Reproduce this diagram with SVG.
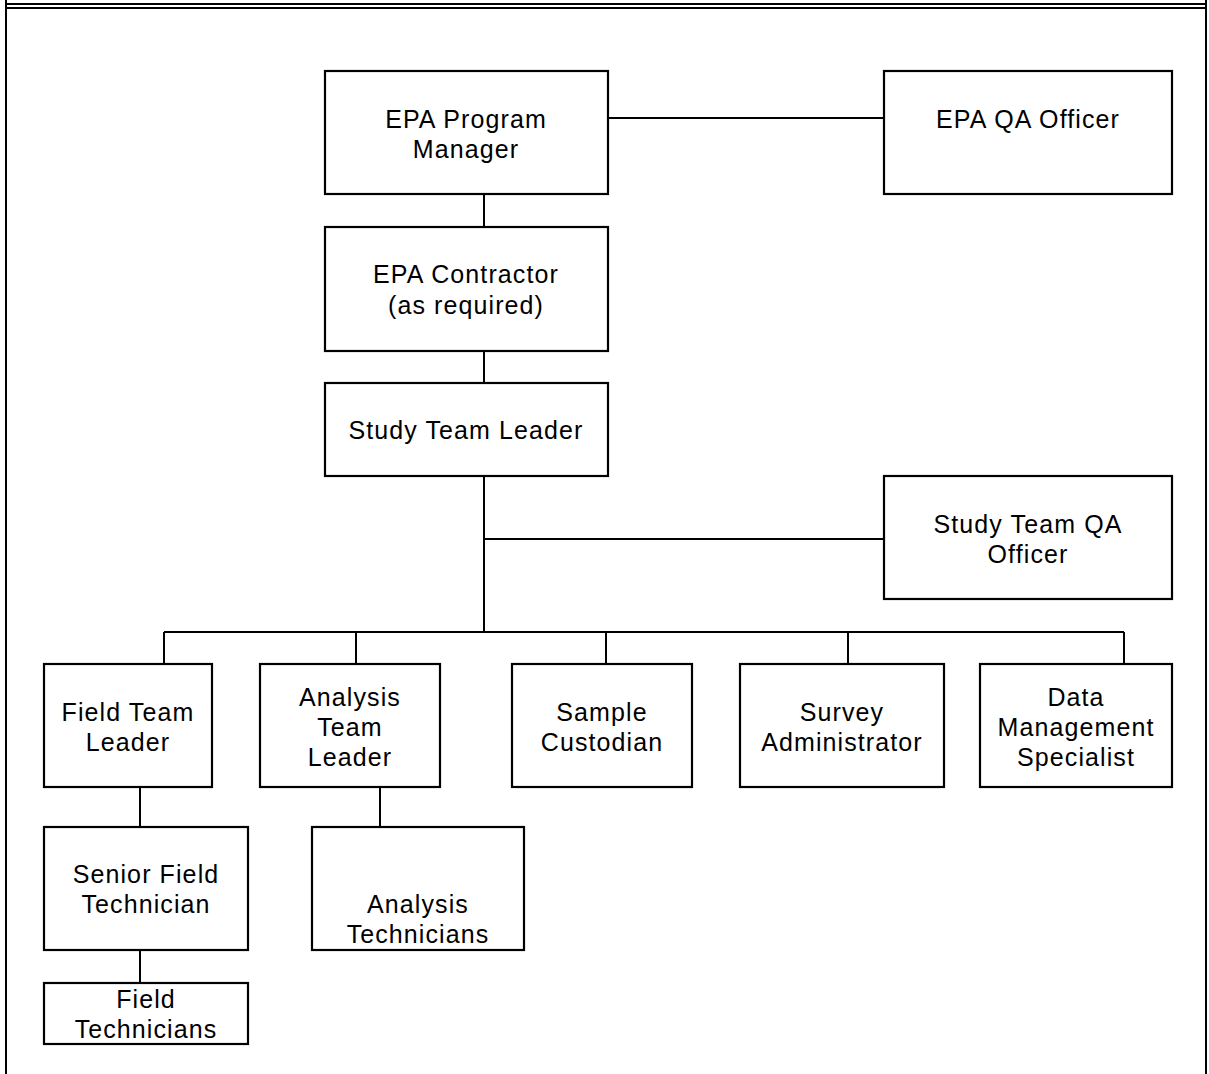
<svg xmlns="http://www.w3.org/2000/svg" width="1209" height="1074" viewBox="0 0 1209 1074">
<style>
.b{fill:#fff;stroke:#000;stroke-width:2.2}
.c{fill:none;stroke:#000;stroke-width:2}
.f{fill:none;stroke:#000;stroke-width:2}
text{font-family:"Liberation Sans",Arial,sans-serif;font-size:25px;text-anchor:middle;fill:#000;letter-spacing:1.1px}
</style>
<rect width="1209" height="1074" fill="#fff"/>
<g id="frame">
<line class="f" x1="6" y1="0" x2="6" y2="1074"/>
<line class="f" x1="1206" y1="0" x2="1206" y2="1074"/>
<line class="f" x1="6" y1="4" x2="1206" y2="4"/>
<line class="f" x1="6" y1="8" x2="1206" y2="8"/>
</g>
<g id="connectors">
<line class="c" x1="608" y1="118" x2="884" y2="118"/>
<line class="c" x1="484" y1="194" x2="484" y2="227"/>
<line class="c" x1="484" y1="351" x2="484" y2="383"/>
<line class="c" x1="484" y1="476" x2="484" y2="632"/>
<line class="c" x1="484" y1="539" x2="884" y2="539"/>
<line class="c" x1="164" y1="632" x2="1124" y2="632"/>
<line class="c" x1="164" y1="632" x2="164" y2="664"/>
<line class="c" x1="356" y1="632" x2="356" y2="664"/>
<line class="c" x1="606" y1="632" x2="606" y2="664"/>
<line class="c" x1="848" y1="632" x2="848" y2="664"/>
<line class="c" x1="1124" y1="632" x2="1124" y2="664"/>
<line class="c" x1="140" y1="787" x2="140" y2="827"/>
<line class="c" x1="380" y1="787" x2="380" y2="827"/>
<line class="c" x1="140" y1="950" x2="140" y2="983"/>
</g>
<g id="epa-program-manager"><rect class="b" x="325" y="71" width="283" height="123"/><text x="466" y="128">EPA Program</text><text x="466" y="158">Manager</text></g>
<g id="epa-qa-officer"><rect class="b" x="884" y="71" width="288" height="123"/><text x="1028" y="128">EPA QA Officer</text></g>
<g id="epa-contractor"><rect class="b" x="325" y="227" width="283" height="124"/><text x="466" y="283">EPA Contractor</text><text x="466" y="314">(as required)</text></g>
<g id="study-team-leader"><rect class="b" x="325" y="383" width="283" height="93"/><text x="466" y="439">Study Team Leader</text></g>
<g id="study-team-qa-officer"><rect class="b" x="884" y="476" width="288" height="123"/><text x="1028" y="533">Study Team QA</text><text x="1028" y="563">Officer</text></g>
<g id="field-team-leader"><rect class="b" x="44" y="664" width="168" height="123"/><text x="128" y="721">Field Team</text><text x="128" y="751">Leader</text></g>
<g id="analysis-team-leader"><rect class="b" x="260" y="664" width="180" height="123"/><text x="350" y="706">Analysis</text><text x="350" y="736">Team</text><text x="350" y="766">Leader</text></g>
<g id="sample-custodian"><rect class="b" x="512" y="664" width="180" height="123"/><text x="602" y="721">Sample</text><text x="602" y="751">Custodian</text></g>
<g id="survey-administrator"><rect class="b" x="740" y="664" width="204" height="123"/><text x="842" y="721">Survey</text><text x="842" y="751">Administrator</text></g>
<g id="data-management-specialist"><rect class="b" x="980" y="664" width="192" height="123"/><text x="1076" y="706">Data</text><text x="1076" y="736">Management</text><text x="1076" y="766">Specialist</text></g>
<g id="senior-field-technician"><rect class="b" x="44" y="827" width="204" height="123"/><text x="146" y="883">Senior Field</text><text x="146" y="913">Technician</text></g>
<g id="analysis-technicians"><rect class="b" x="312" y="827" width="212" height="123"/><text x="418" y="913">Analysis</text><text x="418" y="943">Technicians</text></g>
<g id="field-technicians"><rect class="b" x="44" y="983" width="204" height="61"/><text x="146" y="1008">Field</text><text x="146" y="1038">Technicians</text></g>
</svg>
